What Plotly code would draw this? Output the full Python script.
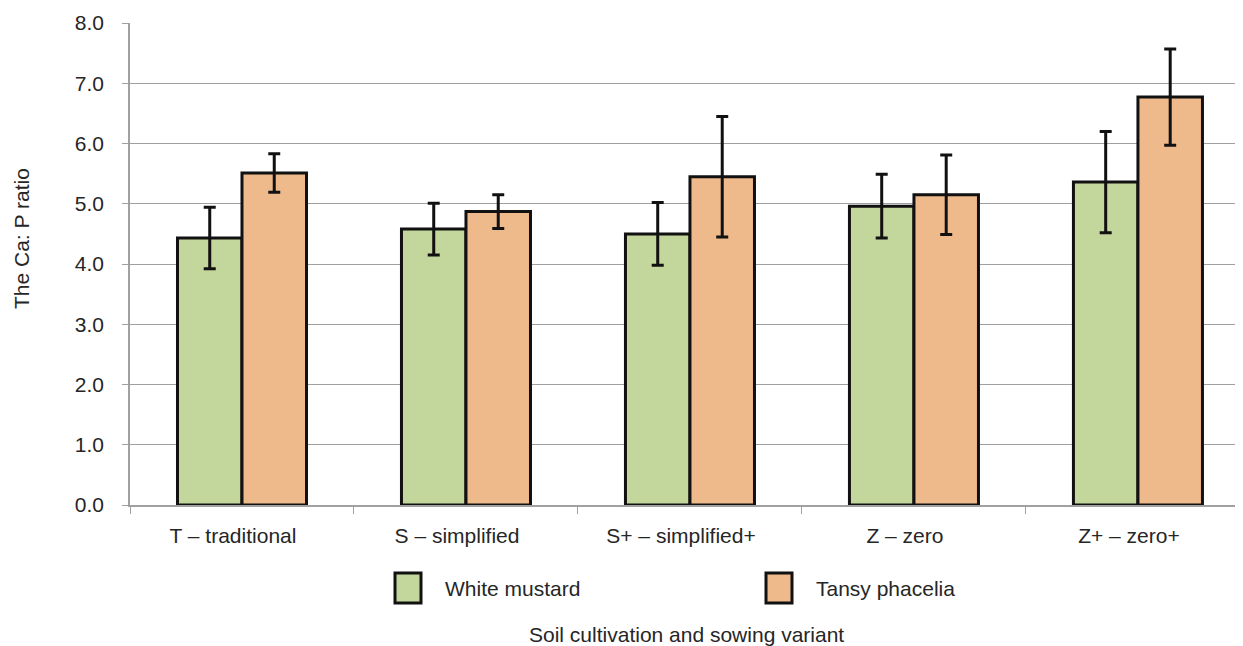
import plotly.graph_objects as go

categories = ["T – traditional", "S – simplified", "S+ – simplified+", "Z – zero", "Z+ – zero+"]
white_mustard = [4.43, 4.58, 4.50, 4.96, 5.36]
white_mustard_err = [0.51, 0.43, 0.52, 0.53, 0.84]
tansy_phacelia = [5.51, 4.87, 5.45, 5.15, 6.77]
tansy_phacelia_err = [0.32, 0.28, 1.00, 0.66, 0.80]
y_ticks = [0, 1, 2, 3, 4, 5, 6, 7, 8]
series_names = ["White mustard", "Tansy phacelia"]
series_colors = ["#c3d69b", "#eeb98b"]

FONT = "Liberation Sans, Arial, sans-serif"
TXT = "#262626"
FS = 21

fig = go.Figure()
for name, vals, errs, col in [
    (series_names[0], white_mustard, white_mustard_err, series_colors[0]),
    (series_names[1], tansy_phacelia, tansy_phacelia_err, series_colors[1]),
]:
    fig.add_trace(go.Bar(
        name=name, x=categories, y=vals,
        marker=dict(color=col, line=dict(color="#111111", width=3)),
        error_y=dict(type="data", array=errs, color="#111111", thickness=3, width=6),
        showlegend=False,
    ))

# page offset of 8px (body margin) compensated in sizes/margins
fig.update_layout(
    width=1235, height=638,
    margin=dict(l=122, r=0, t=15, b=141),
    plot_bgcolor="white", paper_bgcolor="white",
    barmode="group", bargap=0.424, bargroupgap=0,
    font=dict(family=FONT, size=FS, color=TXT),
)
fig.update_xaxes(
    type="category", range=[-0.5, 4.469],
    showline=True, linecolor="#a0a0a0", linewidth=1.5,
    ticks="outside", tickson="boundaries", ticklen=7, tickcolor="#a0a0a0",
    showgrid=False, tickfont=dict(size=FS, color=TXT), ticklabelstandoff=11,
    ticklabelshift=-9,
)
fig.update_yaxes(
    range=[0, 8], tickvals=y_ticks, tickformat=".1f",
    showline=True, linecolor="#a0a0a0", linewidth=1.5,
    ticks="outside", ticklen=6, tickcolor="#a0a0a0",
    showgrid=True, gridcolor="#a0a0a0", gridwidth=1.2,
    zeroline=False, tickfont=dict(size=FS, color=TXT), ticklabelstandoff=14,
)

def px_x(p):
    return (p - 130) / 1113.0

def px_y(p):
    return (505 - p) / 482.0

# custom legend
legend_pos = [(395, 443), (766, 814)]
for (sx, tx), name, col in zip(legend_pos, series_names, series_colors):
    fig.add_shape(type="rect", xref="paper", yref="paper",
                  x0=px_x(sx), x1=px_x(sx + 26), y0=px_y(603), y1=px_y(573),
                  fillcolor=col, line=dict(color="#111111", width=3))
    fig.add_annotation(text=name, xref="paper", yref="paper", x=px_x(tx), y=px_y(588),
                       showarrow=False, xanchor="left", yanchor="middle",
                       font=dict(size=FS, color=TXT))

fig.add_annotation(text="The Ca: P ratio", xref="paper", yref="paper",
                   x=px_x(22), y=px_y(239), textangle=-90, showarrow=False,
                   font=dict(size=FS, color=TXT), xanchor="center", yanchor="middle")
fig.add_annotation(text="Soil cultivation and sowing variant", xref="paper", yref="paper",
                   x=px_x(686), y=px_y(634), showarrow=False,
                   font=dict(size=FS, color=TXT), xanchor="center", yanchor="middle")

fig.write_html("out.html")
